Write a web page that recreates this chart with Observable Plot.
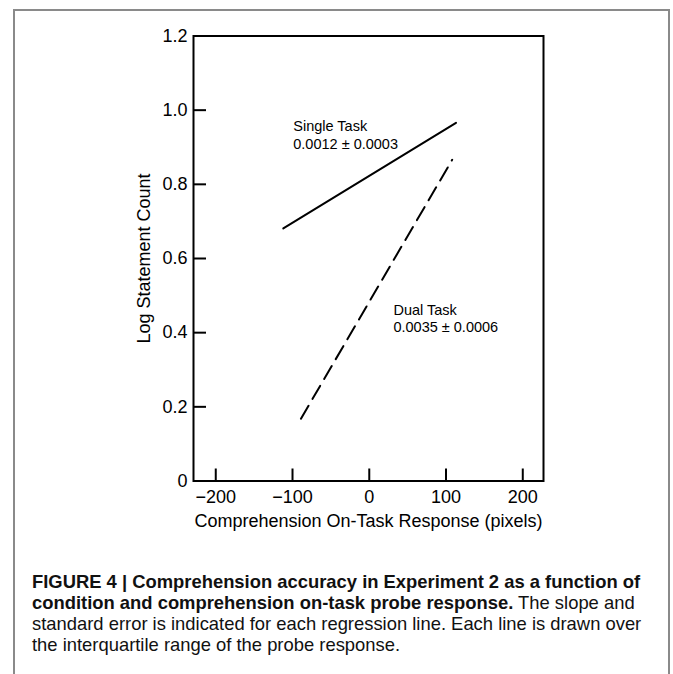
<!DOCTYPE html>
<html>
<head>
<meta charset="utf-8">
<script src="https://cdn.jsdelivr.net/npm/d3@7"></script>
<script src="https://cdn.jsdelivr.net/npm/@observablehq/plot@0.6"></script>
<style>
  html, body { margin: 0; padding: 0; background: #fff; }
  body { width: 673px; height: 674px; position: relative; overflow: hidden; font-family: "Liberation Sans", Arial, sans-serif; }
  #border { position: absolute; left: 13px; top: 9px; width: 653px; height: 700px; border: 2px solid #8a8a8a; border-bottom: none; }
  #chart { position: absolute; left: 0; top: 0; }
  #caption { position: absolute; left: 32px; top: 571px; font-size: 18.4px; line-height: 21px; color: #111; white-space: nowrap; }
</style>
</head>
<body>
<div id="border"></div>
<div id="chart"></div>
<div id="caption"><b>FIGURE 4 | Comprehension accuracy in Experiment 2 as a function of<br>condition and comprehension on-task probe response.</b> The slope and<br>standard error is indicated for each regression line. Each line is drawn over<br>the interquartile range of the probe response.</div>
<script>
// Data
const xTicks = [-200, -100, 0, 100, 200];
const yTicks = [0, 0.2, 0.4, 0.6, 0.8, 1.0, 1.2];
const singleX = [-112, 113];
const singleY = [0.681, 0.966];
const dualX = [-89, 108];
const dualY = [0.168, 0.866];
const conditions = ["Single Task", "Dual Task"];
const slopeText = ["0.0012 ± 0.0003", "0.0035 ± 0.0006"];
const xTitle = "Comprehension On-Task Response (pixels)";
const yTitle = "Log Statement Count";

const single = singleX.map((x, i) => ({x, y: singleY[i]}));
const dual = dualX.map((x, i) => ({x, y: dualY[i]}));
const labels = [
  {x: -99, y: 0.935, t: conditions[0] + "\n" + slopeText[0]},
  {x: 31.5, y: 0.44, t: conditions[1] + "\n" + slopeText[1]}
];

const chart = Plot.plot({
  width: 673,
  height: 545,
  marginLeft: 193,
  marginRight: 130,
  marginTop: 35.5,
  marginBottom: 64.5,
  style: {fontFamily: '"Liberation Sans", Arial, sans-serif', fontSize: "18px", color: "#000", background: "transparent", overflow: "visible"},
  x: {domain: [-229, 227]},
  y: {domain: [0, 1.2]},
  marks: [
    Plot.tickY(yTicks, {y: d => d, insetRight: 337, stroke: "#000", strokeWidth: 2}),
    Plot.tickX(xTicks, {x: d => d, insetTop: 433, stroke: "#000", strokeWidth: 2}),
    Plot.frame({stroke: "#000", strokeWidth: 2}),
    Plot.axisX({ticks: xTicks, tickSize: 0, tickPadding: 9, fontSize: 18, label: null}),
    Plot.axisY({ticks: yTicks, tickSize: 0, tickPadding: 6, fontSize: 18, label: null,
      tickFormat: d => d === 0 ? "0" : d.toFixed(1)}),
    Plot.text([xTitle], {text: d => d, frameAnchor: "bottom", dy: 40, textAnchor: "middle", lineAnchor: "middle", fontSize: 18}),
    Plot.text([yTitle], {text: d => d, frameAnchor: "left", rotate: -90, dx: -49, textAnchor: "middle", lineAnchor: "middle", fontSize: 18}),
    Plot.line(single, {x: "x", y: "y", stroke: "#000", strokeWidth: 2}),
    Plot.line(dual, {x: "x", y: "y", stroke: "#000", strokeWidth: 2, strokeDasharray: "15,8"}),
    Plot.text(labels, {x: "x", y: "y", text: "t", textAnchor: "start", lineAnchor: "middle", lineHeight: 1.22, fontSize: 14.5, fill: "#000"})
  ]
});
document.getElementById("chart").appendChild(chart);
</script>
</body>
</html>
